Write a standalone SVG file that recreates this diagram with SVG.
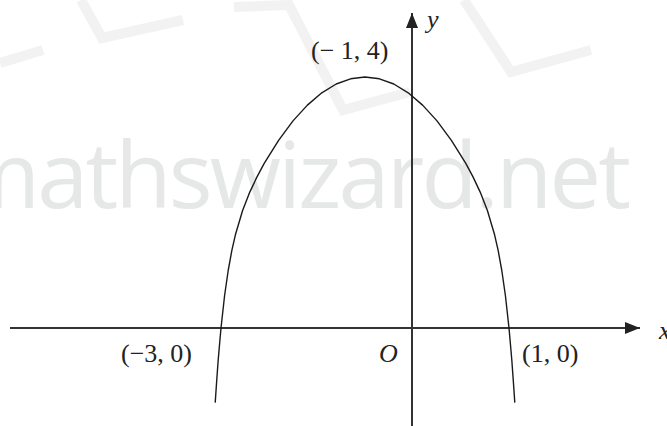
<svg xmlns="http://www.w3.org/2000/svg" width="667" height="426" viewBox="0 0 667 426">
<style>
.wm{fill:none;stroke:#f2f2f2;stroke-width:10;stroke-linejoin:miter}
.wmt{font-family:"Open Sans","Liberation Sans",sans-serif;font-weight:400;font-size:92px;fill:#e6e7e7}
.axis{stroke:#333;stroke-width:2;fill:none}
.curve{stroke:#1a1a1a;stroke-width:1.4;fill:none;stroke-linejoin:round}
.lbl{font-family:"Liberation Serif","Times New Roman",serif;font-size:26px;fill:#222}
.it{font-style:italic}
</style>
<defs>
<marker id="ah" markerWidth="16" markerHeight="12" refX="15" refY="6" orient="auto" markerUnits="userSpaceOnUse">
<path d="M0,0 L15,6 L0,12 Z" fill="#222"/>
</marker>
</defs>
<rect width="667" height="426" fill="#fff"/>
<g id="watermark">
<polyline class="wm" points="0,63 43,50"/>
<polyline class="wm" points="81,0 102,38 183,20"/>
<polyline class="wm" points="234,7 289,5 343,110 410,92"/>
<polyline class="wm" points="464,0 511,72 591,50"/>
<text class="wmt" x="-45" y="208" textLength="676" lengthAdjust="spacing">mathswizard.net</text>
</g>
<g id="connectors">
<line id="x-axis" class="axis" x1="10" y1="328" x2="640" y2="328" marker-end="url(#ah)"/>
<line id="y-axis" class="axis" x1="412" y1="426" x2="412" y2="13" marker-end="url(#ah)"/>
</g>
<g id="curve">
<polyline class="curve" points="215.2,402.6 216.7,380.7 218.1,361.2 219.6,343.7 221,328 224.6,295.5 228.2,270.5 231.8,250.7 235.4,234.8 242.6,210.5 249.8,192.1 257,176.9 264.2,163.4 278.6,140.3 293,120.9 307.4,105.1 321.8,92.8 336.2,84 350.6,78.8 365,77 379.4,78.8 393.8,84 408.2,92.8 422.6,105.1 437,120.9 451.4,140.3 465.8,163.4 473,176.9 480.2,192.1 487.4,210.5 494.6,234.8 498.2,250.7 501.8,270.5 505.4,295.5 509,328 510.4,343.7 511.9,361.2 513.3,380.7 514.8,402.6"/>
</g>
<g id="labels">
<text id="lbl-vertex" class="lbl" x="311" y="59">(− 1, 4)</text>
<text id="lbl-y" class="lbl it" x="427" y="28">y</text>
<text id="lbl-x" class="lbl it" x="659" y="339">x</text>
<text id="lbl-O" class="lbl it" x="379" y="362">O</text>
<text id="lbl-m3" class="lbl" x="121" y="362">(−3, 0)</text>
<text id="lbl-1" class="lbl" x="522" y="362">(1, 0)</text>
</g>
</svg>
